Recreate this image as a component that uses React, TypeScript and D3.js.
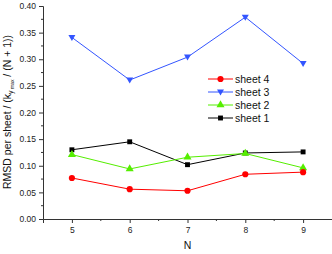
import React, { useEffect, useRef } from 'react';
import * as d3 from 'd3';

// x categories (N)
const nValues = [5, 6, 7, 8, 9];
// series values
const sheet4 = [0.077, 0.056, 0.053, 0.084, 0.088];
const sheet3 = [0.341, 0.261, 0.304, 0.379, 0.292];
const sheet2 = [0.121, 0.094, 0.116, 0.123, 0.096];
const sheet1 = [0.130, 0.145, 0.102, 0.124, 0.126];
const yTicks = [0, 0.05, 0.1, 0.15, 0.2, 0.25, 0.3, 0.35, 0.4];
const seriesNames = ['sheet 4', 'sheet 3', 'sheet 2', 'sheet 1'];

const W = 332;
const H = 254;

const App = () => {
  const ref = useRef<SVGSVGElement>(null);

  useEffect(() => {
    const svg = d3.select(ref.current);
    svg.selectAll('*').remove();

    const x = d3.scaleLinear().domain([4.5, 9.5]).range([43, 332]);
    const y = d3.scaleLinear().domain([0, 0.4]).range([219, 6]);

    const series = [
      { name: seriesNames[0], values: sheet4, color: '#ff0000', symbol: 'circle' },
      { name: seriesNames[1], values: sheet3, color: '#3355ff', symbol: 'down' },
      { name: seriesNames[2], values: sheet2, color: '#55ee00', symbol: 'up' },
      { name: seriesNames[3], values: sheet1, color: '#000000', symbol: 'square' },
    ];

    const font = "'Liberation Sans', Arial, sans-serif";

    // y axis
    const yAxis = d3.axisLeft(y).tickValues(yTicks).tickFormat(d3.format('.2f')).tickSize(4).tickPadding(3);
    const gy = svg.append('g').attr('transform', `translate(${x.range()[0]},0)`).call(yAxis);
    gy.select('.domain').attr('stroke', '#333');
    gy.selectAll('.tick line').attr('stroke', '#333');
    gy.selectAll('text').attr('font-family', font).attr('font-size', 8.5).attr('fill', '#222');
    const yMinor = d3.range(0.025, 0.4, 0.05);
    svg.append('g').selectAll('line').data(yMinor).join('line')
      .attr('x1', x.range()[0] - 2).attr('x2', x.range()[0])
      .attr('y1', d => y(d)).attr('y2', d => y(d)).attr('stroke', '#333');

    // x axis
    const xAxis = d3.axisBottom(x).tickValues(nValues).tickFormat(d3.format('d')).tickSize(4).tickPadding(4);
    const gx = svg.append('g').attr('transform', `translate(0,${y.range()[0]})`).call(xAxis);
    gx.select('.domain').attr('stroke', '#333');
    gx.selectAll('.tick line').attr('stroke', '#333');
    gx.selectAll('text').attr('font-family', font).attr('font-size', 8.5).attr('fill', '#222');
    const xMinor = d3.range(5.5, 9.5, 1);
    svg.append('g').selectAll('line').data(xMinor).join('line')
      .attr('x1', d => x(d)).attr('x2', d => x(d))
      .attr('y1', y.range()[0]).attr('y2', y.range()[0] + 2).attr('stroke', '#333');

    // axis titles
    svg.append('text').attr('x', x(7)).attr('y', 249).attr('text-anchor', 'middle')
      .attr('font-family', font).attr('font-size', 10.5).attr('fill', '#111').text('N');

    const yt = svg.append('text')
      .attr('transform', `translate(11,${112}) rotate(-90)`)
      .attr('text-anchor', 'middle')
      .attr('font-family', font).attr('font-size', 10.5).attr('fill', '#111');
    yt.append('tspan').text('RMSD per sheet / (k');
    yt.append('tspan').attr('font-size', 7).attr('dy', 2).text('y');
    yt.append('tspan').attr('font-size', 5).attr('dy', 1).text(' max');
    yt.append('tspan').attr('dy', -3).text(' / (N + 1))');

    const symbolPath = (s: string) => {
      if (s === 'circle') return d3.symbol(d3.symbolCircle, 30)();
      if (s === 'square') return d3.symbol(d3.symbolSquare, 24)();
      if (s === 'up') return d3.symbol(d3.symbolTriangle, 28)();
      return 'M-3.5,-2.5L3.5,-2.5L0,3.5Z';
    };

    const line = d3.line<number>().x((d, i) => x(nValues[i])).y(d => y(d));

    // draw sheet 1 first so the others sit on top
    [...series].reverse().forEach(s => {
      const g = svg.append('g');
      g.append('path').attr('d', line(s.values)).attr('fill', 'none').attr('stroke', s.color).attr('stroke-width', 1);
      g.selectAll('path.pt').data(s.values).join('path').attr('class', 'pt')
        .attr('d', symbolPath(s.symbol))
        .attr('transform', (d, i) => `translate(${x(nValues[i])},${y(d)})`)
        .attr('fill', s.color);
    });

    // legend
    const lg = svg.append('g');
    series.forEach((s, i) => {
      const ly = 79 + i * 13;
      lg.append('line').attr('x1', 208).attr('x2', 233).attr('y1', ly).attr('y2', ly).attr('stroke', s.color);
      lg.append('path').attr('d', symbolPath(s.symbol)).attr('transform', `translate(220.5,${ly})`).attr('fill', s.color);
      lg.append('text').attr('x', 235).attr('y', ly + 3.8)
        .attr('font-family', font).attr('font-size', 10.5).attr('fill', '#111').text(s.name);
    });
  }, []);

  return (
    <svg ref={ref} width={W} height={H} style={{ position: 'absolute', left: 0, top: 0, background: '#fff' }}></svg>
  );
};

export default App;
